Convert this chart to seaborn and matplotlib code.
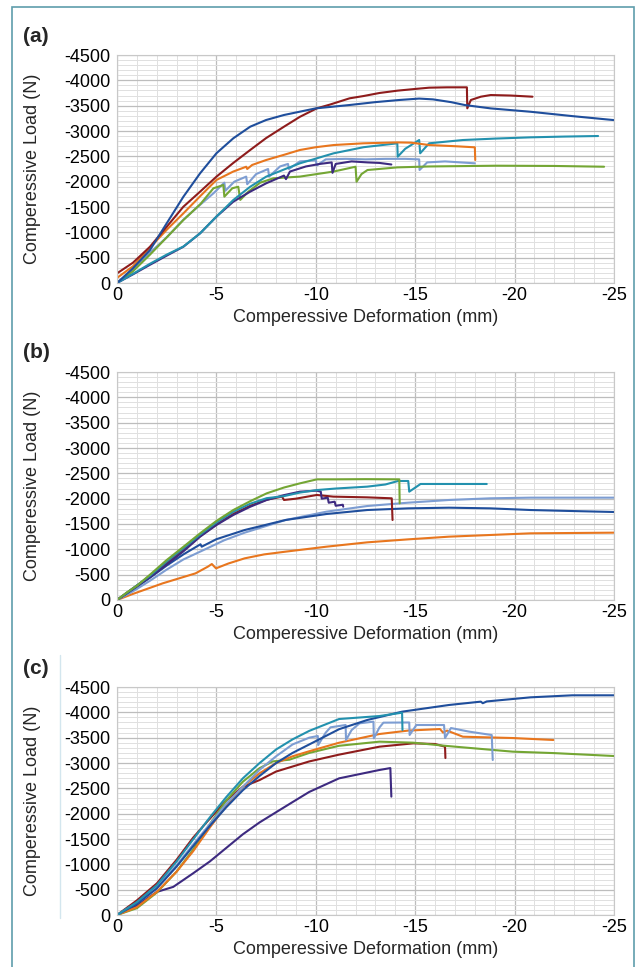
import numpy as np
import pandas as pd
import matplotlib
matplotlib.use("Agg")
import matplotlib.pyplot as plt
from matplotlib.ticker import MultipleLocator
from matplotlib.patches import Rectangle
from matplotlib.lines import Line2D
import seaborn as sns

sns.set_theme(style="white")
plt.rcParams['font.family'] = ['Liberation Sans', 'DejaVu Sans']
plt.rcParams['axes.unicode_minus'] = False

# ---------------- Panel (a) ----------------
a_blue_x = [0, -0.8, -1.66, -2.5, -3.34, -4.18, -5.0, -5.85, -6.7, -7.5, -8.4, -10.0, -11.7, -13.0, -14.2, -15.2, -15.9, -16.8, -17.5, -18.8, -20.8, -22.9, -25.0]
a_blue_y = [0, -290, -651, -1178, -1703, -2165, -2560, -2856, -3085, -3217, -3316, -3447, -3513, -3570, -3612, -3640, -3624, -3570, -3512, -3446, -3380, -3294, -3215]

a_red_x = [0, -0.8, -1.66, -2.5, -3.34, -4.2, -5.0, -5.85, -6.7, -7.5, -8.4, -9.2, -10.05, -10.7, -11.7, -12.4, -13.2, -14.1, -15.0, -15.7, -16.6, -17.6, -17.62, -17.8, -18.3, -18.8, -19.8, -20.9]
a_red_y = [-190, -400, -716, -1110, -1506, -1810, -2098, -2370, -2625, -2860, -3085, -3280, -3447, -3520, -3645, -3690, -3750, -3796, -3830, -3855, -3862, -3862, -3447, -3612, -3677, -3710, -3700, -3677]

a_orange_x = [0, -0.8, -1.66, -2.5, -3.34, -4.2, -5.0, -5.85, -6.5, -6.55, -6.8, -7.5, -8.4, -9.2, -10.0, -10.9, -12.4, -14.1, -14.8, -15.7, -17.0, -18.0, -18.02]
a_orange_y = [-100, -330, -700, -1050, -1375, -1720, -2033, -2200, -2295, -2250, -2330, -2427, -2530, -2625, -2680, -2723, -2757, -2775, -2770, -2723, -2700, -2678, -2427]

a_teal_x = [0, -0.8, -1.66, -2.5, -3.34, -4.18, -5.0, -5.85, -6.7, -7.5, -8.4, -9.2, -10.9, -12.4, -14.1, -14.12, -14.5, -15.2, -15.25, -15.7, -17.4, -19.0, -20.8, -22.5, -24.2]
a_teal_y = [0, -180, -380, -560, -720, -981, -1310, -1638, -1900, -2098, -2240, -2362, -2560, -2680, -2757, -2493, -2650, -2822, -2560, -2757, -2822, -2850, -2875, -2890, -2901]

a_purple_x = [0, -0.8, -1.66, -2.5, -3.34, -4.18, -5.0, -5.85, -6.7, -7.5, -8.4, -8.5, -8.7, -9.5, -10.2, -10.8, -10.84, -11.0, -11.8, -12.6, -13.2, -13.8]
a_purple_y = [0, -170, -360, -540, -716, -980, -1309, -1605, -1803, -1967, -2120, -2050, -2200, -2300, -2350, -2380, -2174, -2350, -2400, -2380, -2370, -2339]

a_lblue_x = [0, -0.8, -1.66, -2.5, -3.34, -4.2, -4.85, -5.4, -5.45, -5.9, -6.5, -6.55, -7.0, -7.6, -7.65, -8.2, -8.6, -8.65, -9.2, -10.0, -10.05, -10.5, -11.5, -12.5, -13.5, -14.5, -15.2, -15.22, -15.6, -16.5, -18.0]
a_lblue_y = [0, -250, -600, -900, -1250, -1550, -1770, -1980, -1820, -2000, -2100, -1950, -2150, -2250, -2100, -2300, -2350, -2250, -2400, -2420, -2320, -2440, -2450, -2440, -2450, -2450, -2440, -2230, -2380, -2400, -2362]

a_green_x = [0, -0.8, -1.66, -2.5, -3.34, -4.2, -4.85, -5.35, -5.4, -5.8, -6.1, -6.2, -6.6, -7.2, -7.86, -9.2, -10.9, -12.0, -12.05, -12.3, -12.6, -14.1, -15.7, -19.1, -22.0, -24.5]
a_green_y = [0, -230, -560, -900, -1243, -1560, -1869, -1934, -1704, -1870, -1900, -1640, -1800, -1980, -2066, -2100, -2200, -2295, -1999, -2150, -2230, -2282, -2300, -2315, -2310, -2295]

# ---------------- Panel (b) ----------------
b_green_x = [0, -0.5, -1.0, -1.66, -2.5, -3.34, -4.18, -5.0, -5.85, -6.7, -7.53, -8.4, -9.2, -10.05, -11.0, -12.5, -14.2, -14.22]
b_green_y = [0, -150, -280, -500, -789, -1050, -1316, -1560, -1776, -1950, -2105, -2220, -2302, -2381, -2381, -2385, -2381, -1908]

b_teal_x = [0, -0.8, -1.66, -2.5, -3.34, -4.18, -5.0, -5.85, -6.7, -7.53, -8.4, -9.2, -10.05, -11.0, -12.58, -13.5, -14.14, -14.65, -14.7, -15.27, -16.5, -18.6]
b_teal_y = [0, -230, -480, -760, -1020, -1290, -1530, -1740, -1900, -2010, -2050, -2120, -2170, -2200, -2237, -2280, -2349, -2349, -2138, -2290, -2290, -2290]

b_purple_x = [0, -0.8, -1.66, -2.5, -3.34, -4.18, -5.0, -5.85, -6.7, -7.53, -8.4, -9.2, -10.05, -10.25, -10.3, -10.6, -10.65, -10.95, -11.0, -11.36, -11.38]
b_purple_y = [0, -220, -450, -700, -960, -1250, -1480, -1678, -1840, -1974, -2070, -2138, -2158, -2138, -2000, -2020, -1920, -1940, -1860, -1880, -1842]

b_red_x = [0, -0.8, -1.66, -2.5, -3.34, -4.18, -5.0, -5.85, -6.7, -7.53, -8.3, -8.4, -9.0, -10.05, -10.88, -12.58, -13.82, -13.86]
b_red_y = [0, -230, -470, -730, -990, -1260, -1490, -1700, -1860, -1980, -2040, -1974, -2000, -2073, -2040, -2026, -2007, -1579]

b_dblue_x = [0, -0.8, -1.66, -2.5, -3.34, -4.2, -4.26, -5.0, -6.42, -8.48, -10.53, -12.59, -14.65, -16.7, -18.77, -20.8, -23.0, -25.0]
b_dblue_y = [0, -210, -440, -680, -900, -1100, -1052, -1200, -1381, -1579, -1697, -1776, -1809, -1822, -1809, -1776, -1755, -1737]

b_lblue_x = [0, -0.8, -1.66, -2.5, -3.34, -4.36, -5.4, -6.42, -8.48, -10.53, -12.59, -14.65, -16.7, -18.77, -20.8, -25.0]
b_lblue_y = [0, -170, -380, -600, -800, -987, -1180, -1329, -1579, -1743, -1855, -1921, -1974, -2007, -2020, -2020]

b_orange_x = [0, -0.8, -2.3, -3.95, -4.57, -4.77, -4.98, -5.6, -6.42, -7.4, -8.48, -10.53, -12.59, -14.65, -16.7, -18.77, -20.8, -25.0]
b_orange_y = [0, -120, -329, -526, -658, -710, -625, -720, -822, -900, -954, -1052, -1138, -1197, -1250, -1283, -1316, -1329]

# ---------------- Panel (c) ----------------
c_dblue_x = [0, -1.0, -2.0, -3.0, -3.83, -4.67, -5.5, -6.33, -7.17, -8.0, -8.83, -9.67, -11.17, -12.59, -14.34, -16.7, -18.3, -18.4, -18.6, -20.8, -22.9, -25.0]
c_dblue_y = [0, -221, -522, -957, -1358, -1760, -2128, -2463, -2744, -2998, -3199, -3366, -3667, -3849, -4013, -4145, -4211, -4180, -4215, -4296, -4336, -4336]

c_teal_x = [0, -1.0, -2.0, -3.0, -3.83, -4.67, -5.5, -6.33, -7.17, -8.0, -8.83, -9.67, -11.17, -13.2, -14.34, -14.36]
c_teal_y = [0, -254, -589, -1057, -1492, -1927, -2329, -2697, -2998, -3266, -3466, -3634, -3868, -3927, -3993, -3651]

c_lblue_x = [0, -1.0, -2.0, -3.0, -3.83, -4.67, -5.5, -6.33, -7.17, -8.0, -8.83, -9.67, -10.1, -10.12, -10.5, -10.74, -11.5, -11.52, -11.8, -12.2, -12.9, -12.92, -13.2, -13.4, -14.7, -14.72, -15.06, -16.45, -16.5, -16.8, -17.7, -18.85, -18.9]
c_lblue_y = [0, -240, -560, -980, -1392, -1793, -2195, -2530, -2864, -3132, -3366, -3500, -3533, -3355, -3600, -3704, -3750, -3454, -3650, -3783, -3816, -3487, -3700, -3796, -3800, -3553, -3750, -3750, -3493, -3690, -3620, -3552, -3059]

c_orange_x = [0, -1.0, -2.0, -3.0, -3.83, -4.67, -5.5, -6.33, -7.17, -8.0, -8.83, -9.67, -11.17, -13.2, -14.65, -16.25, -16.4, -16.6, -17.4, -19.9, -21.95]
c_orange_y = [0, -154, -455, -857, -1258, -1727, -2162, -2530, -2797, -2998, -3132, -3232, -3400, -3572, -3640, -3670, -3600, -3640, -3519, -3493, -3454]

c_green_x = [0, -1.0, -2.0, -3.0, -3.83, -4.67, -5.5, -6.33, -7.17, -7.83, -8.67, -9.67, -11.17, -13.2, -14.9, -16.6, -19.9, -22.0, -25.0]
c_green_y = [0, -134, -442, -857, -1292, -1793, -2262, -2630, -2898, -3031, -3065, -3199, -3340, -3421, -3401, -3336, -3224, -3195, -3138]

c_red_x = [0, -1.0, -2.0, -3.0, -3.83, -4.5, -5.5, -6.33, -7.17, -8.0, -9.67, -11.17, -13.2, -14.9, -16.0, -16.5, -16.52]
c_red_y = [0, -288, -622, -1091, -1526, -1827, -2262, -2530, -2663, -2831, -3031, -3165, -3322, -3388, -3375, -3322, -3098]

c_purple_x = [0, -1.0, -2.0, -2.83, -3.83, -4.67, -5.5, -6.33, -7.17, -8.0, -8.83, -9.67, -11.17, -13.2, -13.75, -13.8]
c_purple_y = [0, -187, -455, -555, -823, -1057, -1325, -1593, -1827, -2028, -2228, -2429, -2697, -2862, -2900, -2336]

x_ticks = [0, -5, -10, -15, -20, -25]
y_ticks = [0, -500, -1000, -1500, -2000, -2500, -3000, -3500, -4000, -4500]

palette = {
    "dark blue": "#1f4e9c",
    "dark red": "#8e1c1c",
    "orange": "#e8761e",
    "teal": "#2391ae",
    "purple": "#3d2a80",
    "light blue": "#7d9dd2",
    "green": "#74a634",
}

panels = [
    ("(a)", [("light blue", a_lblue_x, a_lblue_y), ("green", a_green_x, a_green_y),
             ("purple", a_purple_x, a_purple_y), ("teal", a_teal_x, a_teal_y),
             ("orange", a_orange_x, a_orange_y), ("dark red", a_red_x, a_red_y),
             ("dark blue", a_blue_x, a_blue_y)]),
    ("(b)", [("orange", b_orange_x, b_orange_y), ("light blue", b_lblue_x, b_lblue_y),
             ("dark blue", b_dblue_x, b_dblue_y), ("dark red", b_red_x, b_red_y),
             ("purple", b_purple_x, b_purple_y), ("teal", b_teal_x, b_teal_y),
             ("green", b_green_x, b_green_y)]),
    ("(c)", [("purple", c_purple_x, c_purple_y), ("dark red", c_red_x, c_red_y),
             ("green", c_green_x, c_green_y), ("orange", c_orange_x, c_orange_y),
             ("light blue", c_lblue_x, c_lblue_y), ("dark blue", c_dblue_x, c_dblue_y),
             ("teal", c_teal_x, c_teal_y)]),
]

W, H = 640, 967
fig = plt.figure(figsize=(W / 100, H / 100), dpi=100)
fig.patch.set_facecolor("white")

ax_tops = [55, 372, 687]
ax_h = 228
ax_left, ax_right = 117, 614

for (label, series), top in zip(panels, ax_tops):
    ax = fig.add_axes([ax_left / W, 1 - (top + ax_h) / H, (ax_right - ax_left) / W, ax_h / H])
    frames = []
    for name, xs, ys in series:
        frames.append(pd.DataFrame({"x": xs, "y": ys, "series": name}))
    df = pd.concat(frames, ignore_index=True)
    sns.lineplot(data=df, x="x", y="y", hue="series", palette=palette, estimator=None,
                 sort=False, legend=False, linewidth=1.5, ax=ax, units="series")
    ax.set_xlim(0, -25)
    ax.set_ylim(0, -4500)
    ax.set_xticks(x_ticks)
    ax.set_yticks(y_ticks)
    ax.set_xticklabels([str(t) for t in x_ticks])
    ax.set_yticklabels([str(t) for t in y_ticks])
    ax.xaxis.set_minor_locator(MultipleLocator(1))
    ax.yaxis.set_minor_locator(MultipleLocator(100))
    ax.grid(which="major", color="#bdbdbd", linewidth=0.9)
    ax.grid(which="minor", color="#e0e0e0", linewidth=0.7)
    ax.set_axisbelow(True)
    ax.tick_params(which="both", length=0, labelsize=13, colors="black")
    ax.tick_params(axis="y", pad=5)
    ax.tick_params(axis="x", pad=3)
    for s in ax.spines.values():
        s.set_color("#c8c8c8")
        s.set_linewidth(0.8)
    ax.set_xlabel("Comperessive Deformation (mm)", fontsize=13)
    ax.set_ylabel("Comperessive Load (N)", fontsize=13)
    ax.xaxis.set_label_coords(0.5, -26 / ax_h)
    ax.yaxis.set_label_coords((41 - ax_left) / (ax_right - ax_left), 0.5)
    fig.text(23 / W, 1 - (top - 19) / H, label, fontsize=15, fontweight="bold",
             ha="left", va="center")

# figure frame
fig.patches.append(Rectangle((12 / W, -0.02), 622 / W, 1 - 7 / H + 0.02, transform=fig.transFigure,
                             fill=False, edgecolor="#5f9dab", linewidth=1.2))
fig.lines.append(Line2D([60 / W, 60 / W], [1 - 655 / H, 1 - 918 / H], transform=fig.transFigure,
                        color="#d3e6ee", linewidth=1.0))

fig.savefig("out.png", dpi=100, facecolor="white")
